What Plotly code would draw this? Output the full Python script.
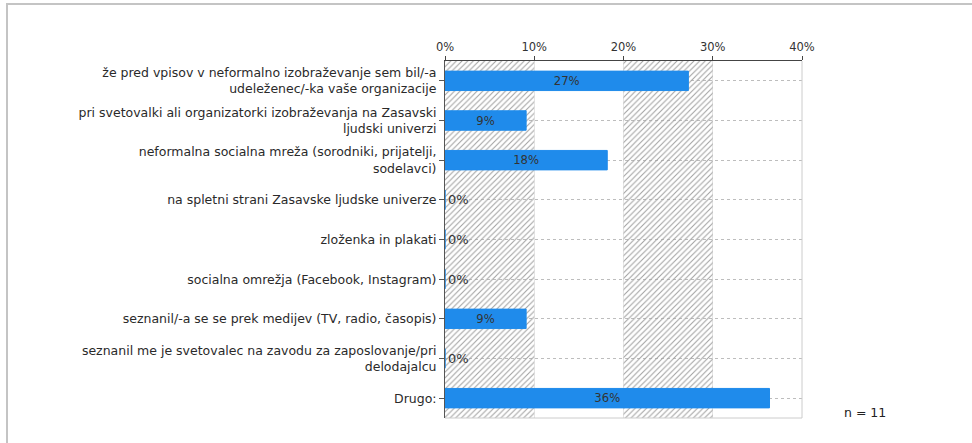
import plotly.graph_objects as go

categories = [
    "že pred vpisov v neformalno izobraževanje sem bil/-a<br>udeleženec/-ka vaše organizacije",
    "pri svetovalki ali organizatorki izobraževanja na Zasavski<br>ljudski univerzi",
    "neformalna socialna mreža (sorodniki, prijatelji,<br>sodelavci)",
    "na spletni strani Zasavske ljudske univerze",
    "zloženka in plakati",
    "socialna omrežja (Facebook, Instagram)",
    "seznanil/-a se se prek medijev (TV, radio, časopis)",
    "seznanil me je svetovalec na zavodu za zaposlovanje/pri<br>delodajalcu",
    "Drugo:",
]
values = [27.27, 9.09, 18.18, 0, 0, 0, 9.09, 0, 36.36]
value_labels = ["27%", "9%", "18%", "0%", "0%", "0%", "9%", "0%", "36%"]
x_ticks = [0, 10, 20, 30, 40]
n_label = "n = 11"

FONT = "DejaVu Sans"
n = len(categories)
ypos = list(range(n))

# plot-area pixel geometry
PL, PR, PT, PB = 445, 802, 61, 418
PW, PH = PR - PL, PB - PT


def px(x):
    return (x - PL) / PW


def py(y):
    return (PB - y) / PH


fig = go.Figure()

# hatched background bands (every other interval between ticks)
band_starts = x_ticks[0:-1:2]
band_widths = [x_ticks[i + 1] - x_ticks[i] for i in range(0, len(x_ticks) - 1, 2)]
fig.add_trace(go.Bar(
    orientation="h",
    y=[(n - 1) / 2] * len(band_starts),
    x=band_widths,
    base=band_starts,
    width=n,
    marker=dict(color="#a0a0a0", line=dict(width=0),
                pattern=dict(shape="/", size=4, solidity=0.25, fillmode="replace")),
    hoverinfo="skip",
    showlegend=False,
))

positions = ["outside" if v == 0 else "inside" for v in values]
fig.add_trace(go.Bar(
    orientation="h",
    y=ypos,
    x=values,
    width=0.49,
    marker=dict(color="#1f8beb", line=dict(width=1, color="#1f8beb")),
    text=value_labels,
    textposition=positions,
    insidetextanchor="middle",
    textfont=dict(family=FONT, size=13, color="#333333"),
    cliponaxis=False,
    showlegend=False,
))

fig.update_layout(
    width=972, height=443,
    margin=dict(l=PL, r=972 - PR, t=PT, b=443 - PB),
    paper_bgcolor="white", plot_bgcolor="white",
    barmode="overlay",
    font=dict(family=FONT, size=11, color="#333333"),
    xaxis=dict(
        side="top", range=[x_ticks[0], x_ticks[-1]],
        tickvals=x_ticks, ticktext=[f"{t}%" for t in x_ticks],
        ticks="outside", ticklen=4, tickcolor="#444444",
        showline=True, linecolor="#444444", linewidth=1,
        showgrid=True, gridcolor="#e6e6e6", zeroline=False,
        tickfont=dict(family=FONT, size=11.5, color="#333333"),
        fixedrange=True,
    ),
    yaxis=dict(
        range=[n - 0.5, -0.5],
        tickvals=ypos, ticktext=categories,
        ticks="outside", ticklen=5, tickcolor="#555555",
        showline=True, linecolor="#555555", linewidth=1,
        showgrid=True, gridcolor="#bdbdbd", griddash="dot", zeroline=False,
        tickfont=dict(family=FONT, size=12.5, color="#2a2a2a"),
        fixedrange=True,
    ),
    shapes=[
        dict(type="line", xref="paper", yref="paper", x0=1, x1=1, y0=0, y1=1,
             line=dict(color="#cccccc", width=1), layer="above"),
        dict(type="line", xref="paper", yref="paper", x0=0, x1=1, y0=0, y1=0,
             line=dict(color="#cccccc", width=1), layer="above"),
        dict(type="rect", xref="paper", yref="paper",
             x0=px(7), x1=px(990), y0=py(460), y1=py(4),
             line=dict(color="#c4c4c4", width=2), layer="below"),
    ],
    annotations=[
        dict(text=n_label, xref="paper", yref="paper",
             x=px(865), y=py(412),
             showarrow=False, xanchor="center", yanchor="middle",
             font=dict(family=FONT, size=12.5, color="#222222")),
    ],
)

fig.write_html(
    "out.html",
    config={"displayModeBar": False},
    post_script="document.body.style.margin='0';document.body.style.overflow='hidden';",
)
